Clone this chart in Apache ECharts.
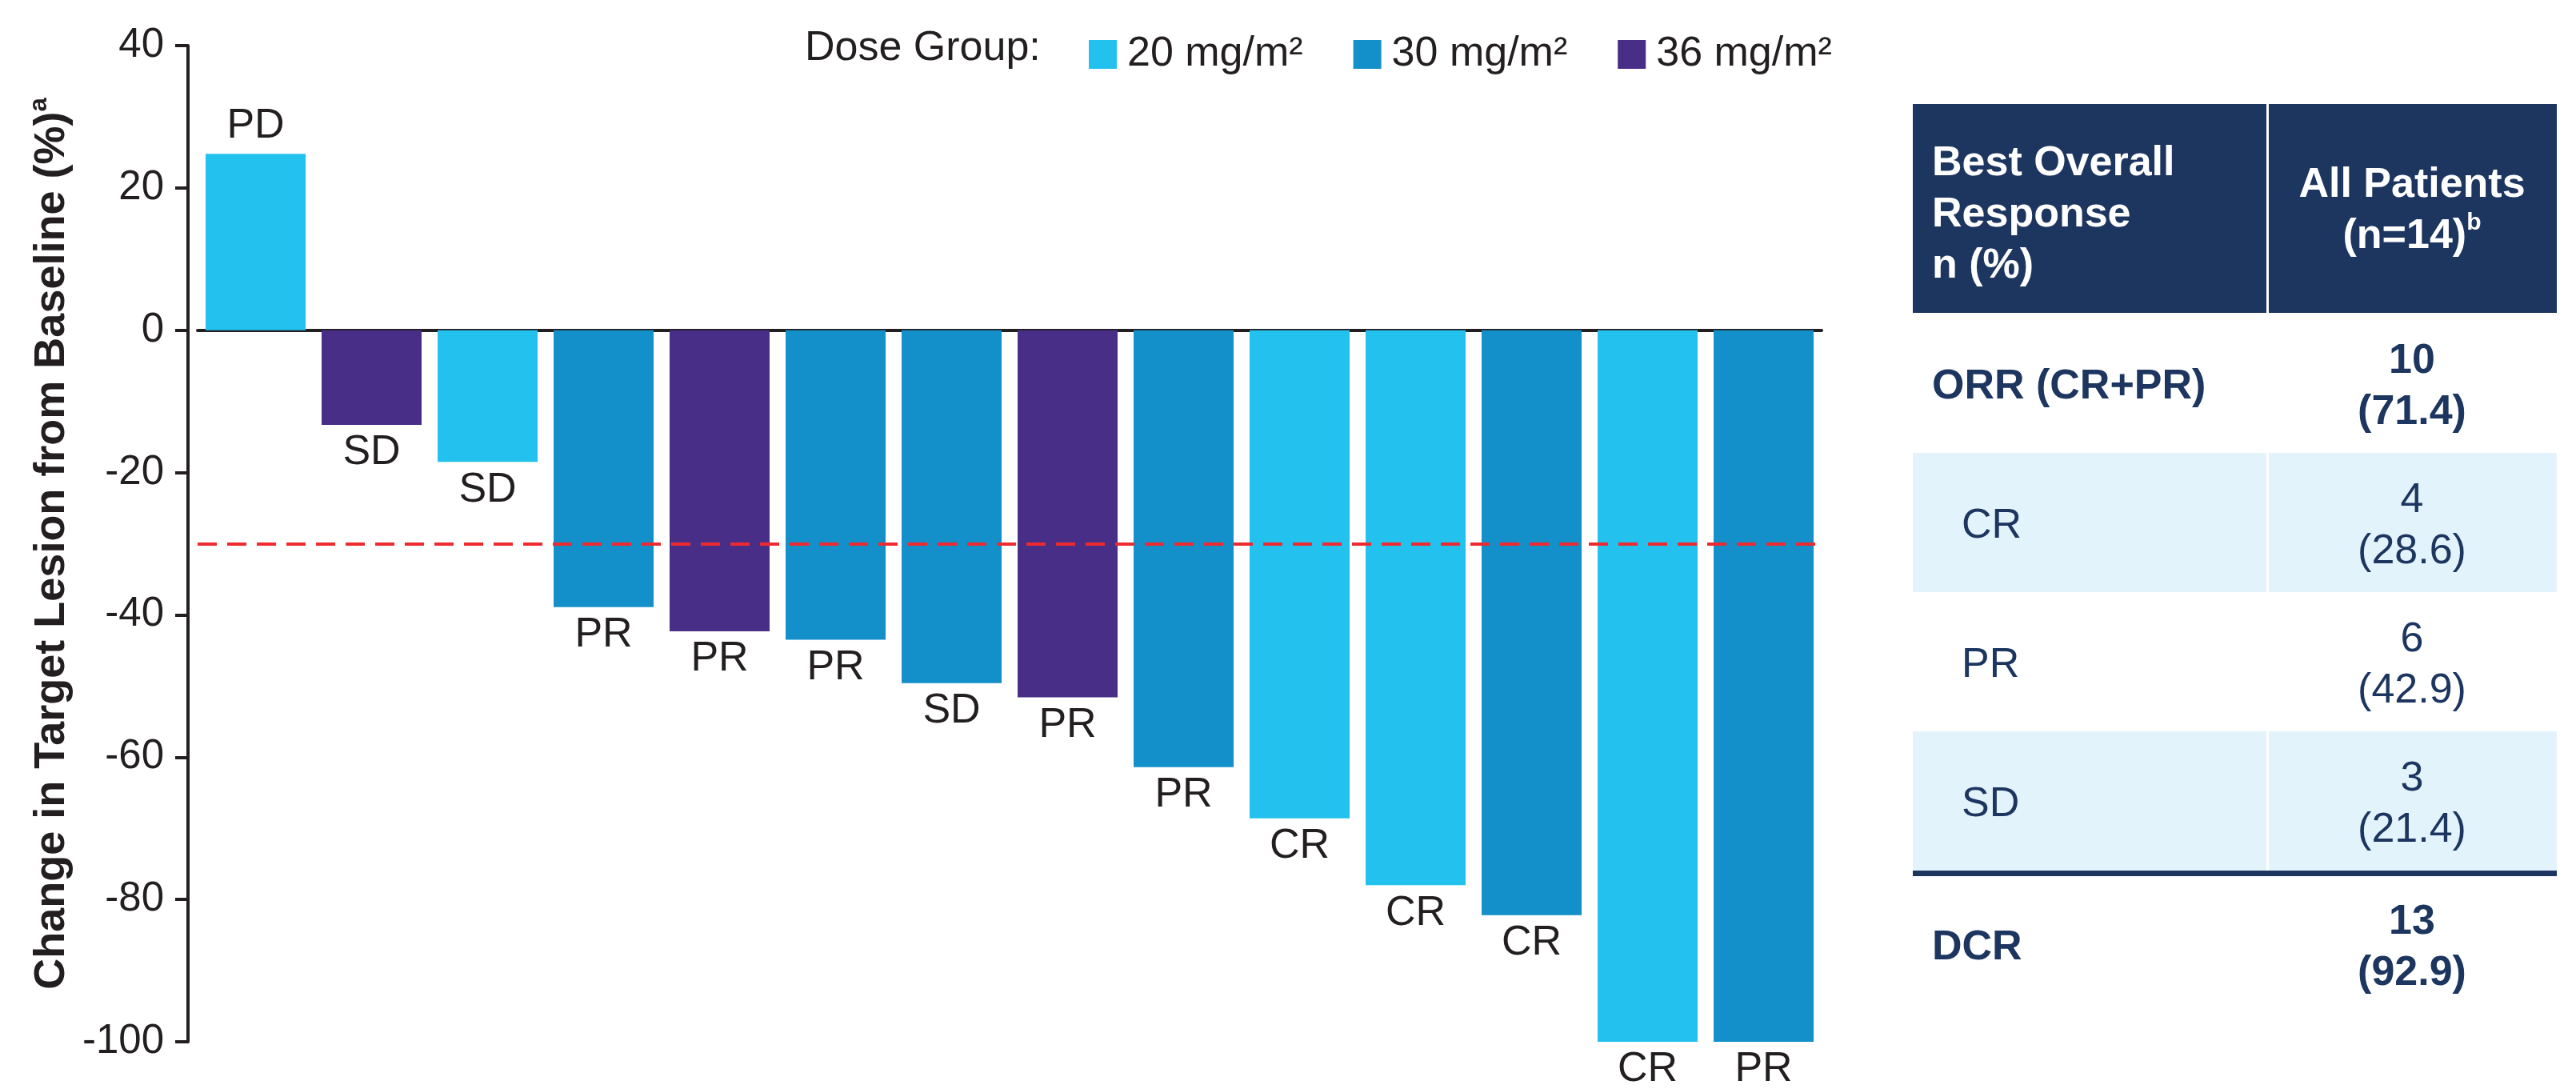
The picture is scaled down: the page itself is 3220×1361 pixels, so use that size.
<!DOCTYPE html>
<html><head><meta charset="utf-8">
<script src="https://cdn.jsdelivr.net/npm/echarts/dist/echarts.min.js"></script>
<style>html,body{margin:0;padding:0;background:#fff}#c{width:3220px;height:1361px}</style>
</head><body><div id="c"></div>
<script>
// ---- data ----
const patients = ['P1','P2','P3','P4','P5','P6','P7','P8','P9','P10','P11','P12','P13','P14'];
const changeFromBaseline = [24.8, -13.3, -18.5, -38.9, -42.3, -43.5, -49.6, -51.6, -61.4, -68.6, -78.0, -82.2, -100, -100];
const patientDose = ['20 mg/m²','36 mg/m²','20 mg/m²','30 mg/m²','36 mg/m²','30 mg/m²','30 mg/m²','36 mg/m²','30 mg/m²','20 mg/m²','20 mg/m²','30 mg/m²','20 mg/m²','30 mg/m²'];
const bestResponse = ['PD','SD','SD','PR','PR','PR','SD','PR','PR','CR','CR','CR','CR','PR'];
const doseGroups = ['20 mg/m²','30 mg/m²','36 mg/m²'];
const doseColors = ['#23c1ee','#138fc9','#482e86'];
const yMin = -100, yMax = 40, yStep = 20;
const responseThreshold = -30;

const tableHeaderLeft = ['Best Overall','Response','n (%)'];
const tableHeaderRight = ['All Patients','(n=14)','b'];
const tableRowLabels = ['ORR (CR+PR)','CR','PR','SD','DCR'];
const tableCounts = ['10','4','6','3','13'];
const tablePercents = ['71.4','28.6','42.9','21.4','92.9'];
const tableRowBold = [true,false,false,false,true];
const tableRowShaded = [false,true,false,true,false];
const tableRowIndent = [false,true,true,true,false];

// ---- styles ----
const FONT = '"Liberation Sans", Arial, Helvetica, sans-serif';
const INK = '#231f20';
const NAVY = '#1d3660';
const SHADE = '#e3f3fb';

const chart = echarts.init(document.getElementById('c'));

const series = doseGroups.map((g, gi) => ({
  name: g,
  type: 'bar',
  stack: 'all',
  barCategoryGap: '13.8%',
  itemStyle: { color: doseColors[gi] },
  data: changeFromBaseline.map((v, i) => patientDose[i] === g ? v : '-'),
  label: {
    show: true,
    position: 'outside',
    distance: 9,
    formatter: p => bestResponse[p.dataIndex],
    fontFamily: FONT, fontSize: 52, color: INK
  },
  emphasis: { disabled: true },
  markLine: gi === 0 ? {
    silent: true, symbol: 'none', label: { show: false },
    lineStyle: { color: '#ee2a2f', type: [24, 13], width: 4 },
    data: [{ yAxis: responseThreshold }]
  } : undefined
}));

// table graphics
const tX = 2391, tDiv = 2834, tR = 3196, hTop = 130, hH = 261, rTop = 392, rH = 174;
const g = [];
g.push({ type: 'text', left: 1006, top: 35, style: { text: 'Dose Group:', font: '52px ' + FONT, fill: INK } });
g.push({ type: 'rect', shape: { x: tX, y: hTop, width: tDiv - tX - 1, height: hH }, style: { fill: NAVY } });
g.push({ type: 'rect', shape: { x: tDiv + 2, y: hTop, width: tR - tDiv - 2, height: hH }, style: { fill: NAVY } });
g.push({ type: 'text', x: 2415, y: hTop + hH / 2 + 8, style: {
  text: tableHeaderLeft.join('\n'), fill: '#fff', fontFamily: FONT, fontSize: 52, fontWeight: 'bold',
  lineHeight: 64, align: 'left', verticalAlign: 'middle' } });
g.push({ type: 'text', x: (tDiv + tR) / 2, y: hTop + hH / 2 + 3, style: {
  text: '{b|' + tableHeaderRight[0] + '}\n{b|' + tableHeaderRight[1] + '}{s|' + tableHeaderRight[2] + '}',
  fill: '#fff', align: 'center', verticalAlign: 'middle',
  rich: {
    b: { fontFamily: FONT, fontSize: 52, fontWeight: 'bold', lineHeight: 64, fill: '#fff', color: '#fff' },
    s: { fontFamily: FONT, fontSize: 30, fontWeight: 'bold', lineHeight: 64, verticalAlign: 'top', padding: [0,0,14,0], fill: '#fff', color: '#fff' }
  } } });
let y = rTop;
tableRowLabels.forEach((lab, i) => {
  if (i === 4) {
    g.push({ type: 'rect', shape: { x: tX, y: y, width: tR - tX, height: 7 }, style: { fill: NAVY } });
    y += 5;
  }
  if (tableRowShaded[i]) {
    g.push({ type: 'rect', shape: { x: tX, y: y, width: tDiv - tX - 1, height: rH }, style: { fill: SHADE } });
    g.push({ type: 'rect', shape: { x: tDiv + 2, y: y, width: tR - tDiv - 2, height: rH }, style: { fill: SHADE } });
  }
  const fw = tableRowBold[i] ? 'bold' : 'normal';
  g.push({ type: 'text', x: tableRowIndent[i] ? 2452 : 2415, y: y + rH / 2 + 5, style: {
    text: lab, fill: NAVY, fontFamily: FONT, fontSize: 52, fontWeight: fw, align: 'left', verticalAlign: 'middle' } });
  g.push({ type: 'text', x: (tDiv + tR) / 2, y: y + rH / 2 + 5, style: {
    text: tableCounts[i] + '\n(' + tablePercents[i] + ')', fill: NAVY, fontFamily: FONT, fontSize: 52,
    fontWeight: fw, lineHeight: 64, align: 'center', verticalAlign: 'middle' } });
  y += rH;
});

chart.setOption({
  animation: false,
  backgroundColor: '#fff',
  grid: { left: 247, top: 57, width: 2030, height: 1245, containLabel: false },
  legend: {
    data: doseGroups, left: 1361, top: 42, padding: 0,
    icon: 'rect', itemWidth: 35, itemHeight: 36, itemGap: 63,
    textStyle: { fontFamily: FONT, fontSize: 52, color: INK, padding: [0, 0, 0, 8] },
    selectedMode: false
  },
  xAxis: {
    type: 'category', data: patients,
    axisLine: { onZero: true, lineStyle: { color: INK, width: 4 } },
    axisTick: { show: false }, axisLabel: { show: false }, splitLine: { show: false }
  },
  yAxis: {
    type: 'value', min: yMin, max: yMax, interval: yStep, offset: 12,
    name: '{t|Change in Target Lesion from Baseline (%)}{s|a}',
    nameLocation: 'middle', nameGap: 130, nameRotate: 90,
    nameTextStyle: {
      rich: {
        t: { fontFamily: FONT, fontSize: 54, fontWeight: 'bold', color: INK, lineHeight: 62 },
        s: { fontFamily: FONT, fontSize: 31, fontWeight: 'bold', color: INK, verticalAlign: 'top', lineHeight: 62, padding: [0,0,12,0] }
      }
    },
    axisLine: { show: true, lineStyle: { color: INK, width: 4 } },
    axisTick: { show: true, length: 16, lineStyle: { color: INK, width: 4 } },
    axisLabel: { fontFamily: FONT, fontSize: 51, color: INK, margin: 30 },
    splitLine: { show: false }
  },
  series: series,
  graphic: g
});
</script>
</body></html>
